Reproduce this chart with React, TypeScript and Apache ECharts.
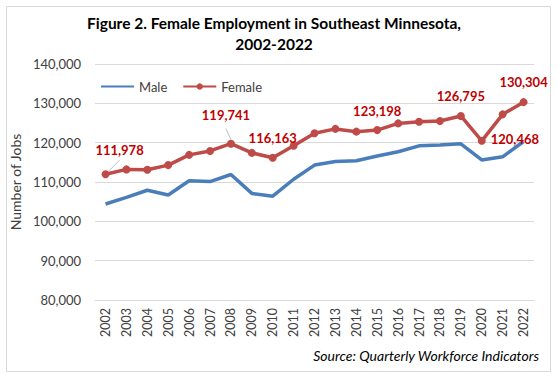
import React, { useEffect, useRef } from "react";
import * as echarts from "echarts";

const years = [
  "2002", "2003", "2004", "2005", "2006", "2007", "2008", "2009", "2010", "2011", "2012",
  "2013", "2014", "2015", "2016", "2017", "2018", "2019", "2020", "2021", "2022",
];
const male = [
  104400, 106100, 107900, 106700, 110300, 110100, 111900, 107100, 106400, 110700, 114300,
  115200, 115400, 116600, 117700, 119200, 119400, 119700, 115600, 116400, 120300,
];
const female = [
  111978, 113200, 113100, 114300, 116900, 117900, 119741, 117400, 116163, 119200, 122400,
  123500, 122800, 123198, 124900, 125300, 125500, 126795, 120468, 127200, 130304,
];
const labeledYears = ["2002", "2008", "2010", "2015", "2019", "2020", "2022"];
const guideYears = ["2002", "2008"];
const seriesNames = ["Male", "Female"];
const yMin = 80000;
const yMax = 140000;
const yStep = 10000;
const titleLines = ["Figure 2. Female Employment in Southeast Minnesota,", "2002-2022"];
const yAxisName = "Number of Jobs";
const sourceText = "Source: Quarterly Workforce Indicators";

const FONT = "Lato, 'Open Sans', sans-serif";

export default function App() {
  const ref = useRef<HTMLDivElement>(null);
  useEffect(() => {
    document.body.style.margin = "0";
    const chart = echarts.init(ref.current!, null, { renderer: "svg" });
    const labelShift: Record<string, [number, number]> = {
      "2002": [14, -9],
      "2008": [-5, -13],
      "2010": [0, -4],
      "2015": [0, -4],
      "2019": [0, -4],
      "2020": [0, -2],
      "2022": [0, -5],
    };
    // guide line endpoints relative to the data point (pixels)
    const guideRel: Record<string, [number, number, number, number]> = {
      "2002": [3, -3, 14, -14],
      "2008": [0, -4, -5, -15],
    };
    const femaleData = female.map((v, i) => {
      const y = years[i];
      if (!labeledYears.includes(y)) return { value: v };
      return {
        value: v,
        label: {
          show: true,
          position: y === "2020" ? "right" : "top",
          offset: labelShift[y],
        },
      };
    });
    const baseGraphic: any[] = [
      {
        type: "rect",
        shape: { x: 6.5, y: 6.5, width: 544, height: 365 },
        style: { fill: "none", stroke: "#d9d9d9", lineWidth: 1 },
        silent: true,
      },
      {
        type: "text",
        x: 274,
        y: 23,
        style: {
          text: titleLines[0],
          font: `bold 15.5px ${FONT}`,
          fill: "#000",
          textAlign: "center",
          textVerticalAlign: "middle",
        },
      },
      {
        type: "text",
        x: 274,
        y: 44,
        style: {
          text: titleLines[1],
          font: `bold 15.5px ${FONT}`,
          fill: "#000",
          textAlign: "center",
          textVerticalAlign: "middle",
        },
      },
      {
        type: "text",
        x: 539,
        y: 355,
        style: {
          text: sourceText,
          font: `italic 14px ${FONT}`,
          fill: "#000",
          textAlign: "right",
          textVerticalAlign: "middle",
        },
      },
    ];
    chart.setOption({
      animation: false,
      textStyle: { fontFamily: FONT },
      graphic: baseGraphic,
      legend: {
        data: [{ name: seriesNames[0], itemStyle: { opacity: 0 } }, { name: seriesNames[1] }],
        left: 95,
        top: 75,
        itemWidth: 33,
        itemHeight: 8,
        itemGap: 15,
        textStyle: { fontSize: 13, color: "#404040", fontFamily: FONT },
      },
      grid: { left: 93, right: 23, top: 64, bottom: 76, containLabel: false },
      xAxis: {
        type: "category",
        data: years,
        boundaryGap: true,
        axisLine: { show: true, lineStyle: { color: "#d9d9d9" } },
        axisTick: { show: false },
        axisLabel: { rotate: 90, margin: 8, fontSize: 12.5, color: "#404040", fontFamily: FONT },
      },
      yAxis: {
        type: "value",
        min: yMin,
        max: yMax,
        interval: yStep,
        name: yAxisName,
        nameLocation: "middle",
        nameGap: 69,
        nameTextStyle: { fontSize: 14, color: "#404040", fontFamily: FONT },
        axisLine: { show: false },
        axisTick: { show: false },
        splitLine: { lineStyle: { color: "#d9d9d9", width: 1 } },
        axisLabel: {
          margin: 14,
          fontSize: 13,
          color: "#404040",
          fontFamily: FONT,
          formatter: (v: number) => v.toLocaleString("en-US"),
        },
      },
      series: [
        {
          name: seriesNames[0],
          type: "line",
          data: male,
          symbol: "none",
          lineStyle: { color: "#4a7ebb", width: 3.5 },
          itemStyle: { color: "#4a7ebb" },
        },
        {
          name: seriesNames[1],
          type: "line",
          data: femaleData,
          symbol: "circle",
          symbolSize: 8,
          lineStyle: { color: "#be4b48", width: 3.5 },
          itemStyle: { color: "#be4b48" },
          label: {
            show: false,
            distance: 5,
            fontSize: 13,
            fontWeight: "bold",
            color: "#c00000",
            fontFamily: FONT,
            formatter: (p: any) => Number(p.value).toLocaleString("en-US"),
          },
        },
      ],
    });
    const guides = guideYears.map((y) => {
      const i = years.indexOf(y);
      const [px, py] = chart.convertToPixel({ seriesIndex: 1 }, [y, female[i]]) as number[];
      const r = guideRel[y];
      return {
        type: "line",
        shape: { x1: px + r[0], y1: py + r[1], x2: px + r[2], y2: py + r[3] },
        style: { stroke: "#a6a6a6", lineWidth: 0.75 },
        silent: true,
        z: 10,
      };
    });
    chart.setOption({ graphic: [...baseGraphic, ...guides] });
    return () => chart.dispose();
  }, []);
  return <div ref={ref} style={{ width: 557, height: 376 }} />;
}
